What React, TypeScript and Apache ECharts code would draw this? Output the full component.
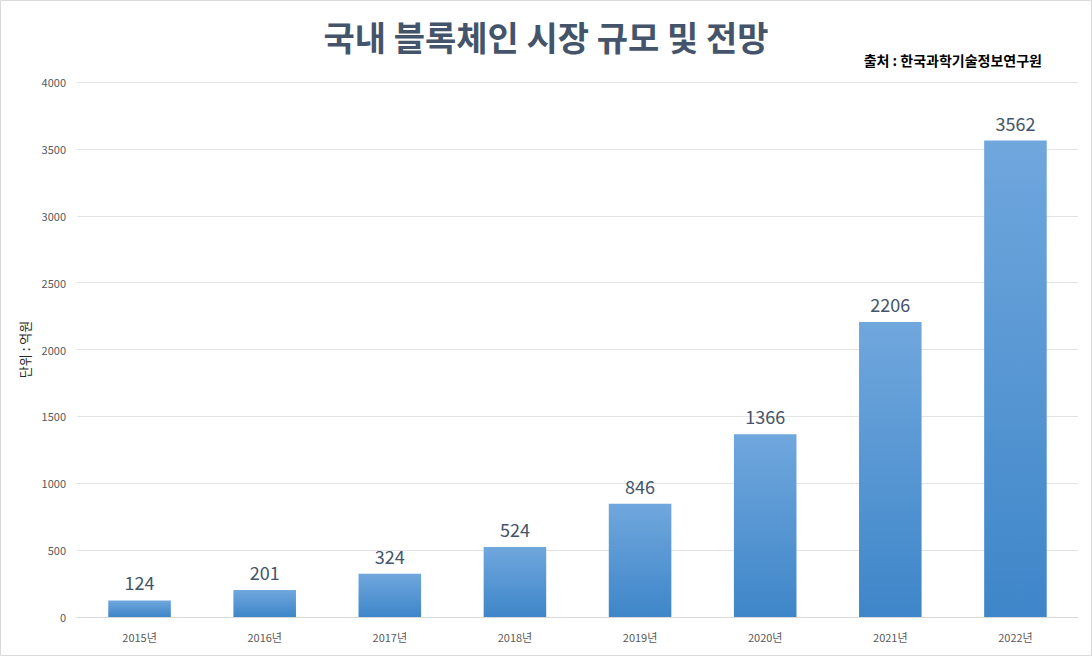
import React, { useEffect, useRef } from "react";
import * as echarts from "echarts";

const categories = ["2015년", "2016년", "2017년", "2018년", "2019년", "2020년", "2021년", "2022년"];
const values = [124, 201, 324, 524, 846, 1366, 2206, 3562];
const titleText = "국내 블록체인 시장 규모 및 전망";
const sourceText = "출처 : 한국과학기술정보연구원";
const yAxisName = "단위 : 억원";

const FONT = "'Noto Sans CJK KR', 'Noto Sans', sans-serif";

export default function App() {
  const ref = useRef<HTMLDivElement>(null);
  useEffect(() => {
    document.body.style.margin = "0";
    const chart = echarts.init(ref.current!, undefined, { renderer: "svg" });
    chart.setOption({
      animation: false,
      backgroundColor: "#ffffff",
      textStyle: { fontFamily: FONT },
      title: {
        text: titleText,
        left: "center",
        top: 14,
        textStyle: { fontSize: 34, fontWeight: "bold", color: "#44546a", fontFamily: FONT },
      },
      graphic: [
        {
          type: "rect",
          shape: { x: 0.5, y: 0.5, width: 1091, height: 655 },
          style: { fill: "none", stroke: "#d9d9d9", lineWidth: 1 },
          silent: true,
        },
        {
          type: "text",
          right: 50,
          top: 53,
          style: { text: sourceText, fontSize: 14, fontWeight: "bold", fill: "#000000", fontFamily: FONT },
        },
      ],
      grid: { left: 77, right: 14, top: 82, bottom: 39 },
      xAxis: {
        type: "category",
        data: categories,
        axisLine: { show: true, lineStyle: { color: "#d9d9d9" } },
        axisTick: { show: false },
        axisLabel: { fontSize: 11, color: "#595959", margin: 14, fontFamily: FONT },
      },
      yAxis: {
        type: "value",
        min: 0,
        max: 4000,
        interval: 500,
        name: yAxisName,
        nameLocation: "middle",
        nameGap: 40,
        nameRotate: 90,
        nameTextStyle: { fontSize: 13, color: "#262626", fontFamily: FONT },
        axisLine: { show: false },
        axisTick: { show: false },
        axisLabel: {
          fontSize: 11,
          color: "#595959",
          margin: 11,
          fontFamily: FONT,
          formatter: (v: number) => String(v),
        },
        splitLine: { lineStyle: { color: "#e3e3e3" } },
      },
      series: [
        {
          type: "bar",
          data: values,
          barWidth: "50%",
          itemStyle: {
            color: new echarts.graphic.LinearGradient(0, 0, 0, 1, [
              { offset: 0, color: "#70a7dd" },
              { offset: 1, color: "#3e86c9" },
            ]),
          },
          label: {
            show: true,
            position: "top",
            distance: 9,
            fontSize: 18,
            color: "#44546a",
            fontFamily: FONT,
          },
        },
      ],
    });
    return () => chart.dispose();
  }, []);
  return <div ref={ref} style={{ width: 1092, height: 656 }} />;
}
